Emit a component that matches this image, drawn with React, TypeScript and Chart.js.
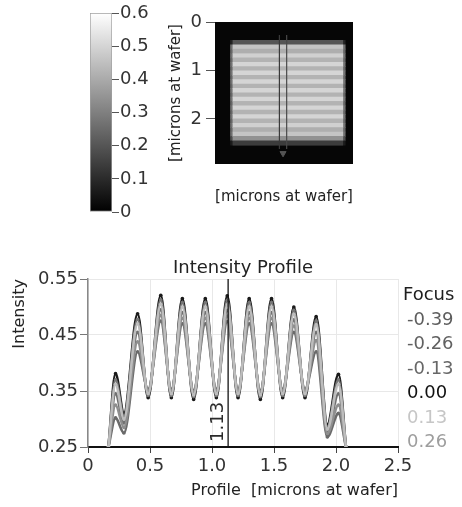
import React, { useEffect, useRef } from 'react';
import { Chart, registerables } from 'chart.js';

Chart.register(...registerables);

const FONT = "'DejaVu Sans', sans-serif";

// ---------- colour bar ----------
const colorbarRange = [0, 0.6];
const colorbarStep = 0.1;

// ---------- aerial image ----------
const imageXRange = [0, 2.85];
const imageYRange = [0, 2.93];
const imageYTickStep = 1;
const imageRowY = [
  0.425, 0.515, 0.605, 0.695, 0.785, 0.875, 0.965, 1.055, 1.145, 1.235, 1.325, 1.415,
  1.505, 1.595, 1.685, 1.775, 1.865, 1.955, 2.045, 2.135, 2.225, 2.315, 2.405, 2.495,
];
const imageRowValue = [
  0.2, 0.46, 0.41, 0.49, 0.42, 0.5, 0.42, 0.5, 0.42, 0.5, 0.42, 0.5,
  0.42, 0.5, 0.42, 0.5, 0.42, 0.5, 0.42, 0.49, 0.41, 0.46, 0.34, 0.14,
];
const imageBlurValue = [
  0.08, 0.26, 0.24, 0.27, 0.24, 0.27, 0.24, 0.27, 0.24, 0.27, 0.24, 0.27,
  0.24, 0.27, 0.24, 0.27, 0.24, 0.27, 0.24, 0.27, 0.24, 0.26, 0.18, 0.06,
];
const imagePatternX = [0.37, 2.64];
const imageBlurX = [0.32, 2.69];
const cutLineLeftX = 1.33;
const cutLineRightX = 1.48;
const cutLineY = [0.27, 2.62];
const cutArrow = { x: 1.405, y: 2.71 };

// ---------- intensity profile ----------
const profileXRange = [0, 2.5];
const profileXStep = 0.5;
const profileYRange = [0.25, 0.55];
const profileYStep = 0.1;
const markerX = 1.13;
const profileX = [
  0.165, 0.222, 0.29, 0.4, 0.485, 0.587, 0.672, 0.761, 0.852, 0.946, 1.035, 1.123,
  1.21, 1.3, 1.39, 1.48, 1.57, 1.66, 1.75, 1.84, 1.93, 2.02, 2.08,
];
const focusM039 = [
  0.25, 0.302, 0.275, 0.42, 0.353, 0.475, 0.353, 0.47, 0.351, 0.47, 0.353, 0.474,
  0.353, 0.47, 0.351, 0.47, 0.353, 0.455, 0.353, 0.42, 0.268, 0.31, 0.25,
];
const focusM026 = [
  0.25, 0.345, 0.293, 0.455, 0.348, 0.495, 0.348, 0.49, 0.346, 0.49, 0.348, 0.494,
  0.348, 0.49, 0.346, 0.49, 0.348, 0.477, 0.348, 0.455, 0.278, 0.345, 0.25,
];
const focusM013 = [
  0.25, 0.37, 0.305, 0.478, 0.342, 0.513, 0.342, 0.508, 0.34, 0.508, 0.342, 0.512,
  0.342, 0.508, 0.34, 0.508, 0.342, 0.494, 0.342, 0.475, 0.285, 0.37, 0.25,
];
const focus000 = [
  0.25, 0.381, 0.31, 0.488, 0.338, 0.521, 0.338, 0.515, 0.335, 0.515, 0.338, 0.52,
  0.338, 0.515, 0.335, 0.515, 0.338, 0.5, 0.338, 0.483, 0.29, 0.38, 0.25,
];
const focusP013 = [
  0.25, 0.362, 0.3, 0.47, 0.345, 0.505, 0.345, 0.5, 0.343, 0.5, 0.345, 0.504,
  0.345, 0.5, 0.343, 0.5, 0.345, 0.487, 0.345, 0.468, 0.282, 0.362, 0.25,
];
const focusP026 = [
  0.25, 0.325, 0.285, 0.438, 0.35, 0.485, 0.35, 0.48, 0.348, 0.48, 0.35, 0.484,
  0.35, 0.48, 0.348, 0.48, 0.35, 0.466, 0.35, 0.44, 0.274, 0.325, 0.25,
];
const focusLabels = ['-0.39', '-0.26', '-0.13', '0.00', '0.13', '0.26'];
const focusSeries = [focusM039, focusM026, focusM013, focus000, focusP013, focusP026];
const focusColors = ['#5e5e5e', '#616161', '#676767', '#111111', '#c6c6c6', '#9e9e9e'];
const focusLineColors = ['#6a6a6a', '#707070', '#767676', '#1a1a1a', '#bdbdbd', '#8e8e8e'];
const focusOrder = [4, 3, 1, 5, 0, 2];

function grayFor(v: number): string {
  const t = Math.max(0, Math.min(1, (v - colorbarRange[0]) / (colorbarRange[1] - colorbarRange[0])));
  const g = Math.round(t * 255);
  return `rgb(${g},${g},${g})`;
}

const imageBgPlugin = {
  id: 'imageBg',
  beforeDatasetsDraw(chart: any) {
    const { ctx, scales } = chart;
    const x0 = scales.x.getPixelForValue(imageXRange[0]);
    const x1 = scales.x.getPixelForValue(imageXRange[1]);
    const y0 = scales.y.getPixelForValue(imageYRange[0]);
    const y1 = scales.y.getPixelForValue(imageYRange[1]);
    ctx.save();
    ctx.fillStyle = grayFor(0.015);
    ctx.fillRect(x0, y0, x1 - x0, y1 - y0);
    ctx.restore();
  },
};

const focusLegendPlugin = {
  id: 'focusLegend',
  afterDraw(chart: any, _args: any, opts: any) {
    const ctx = chart.ctx;
    ctx.save();
    ctx.font = `18px ${FONT}`;
    ctx.textAlign = 'left';
    ctx.textBaseline = 'middle';
    ctx.fillStyle = '#1e1e1e';
    ctx.fillText(opts.title, opts.titleX, opts.titleY);
    focusLabels.forEach((lab, i) => {
      ctx.fillStyle = focusColors[i];
      ctx.fillText(lab, opts.itemX, opts.firstY + i * opts.stepY);
    });
    ctx.restore();
  },
};

const markerLabelPlugin = {
  id: 'markerLabel',
  afterDatasetsDraw(chart: any) {
    const { ctx, scales } = chart;
    const x = scales.x.getPixelForValue(markerX);
    const y = scales.y.getPixelForValue(profileYRange[0]);
    ctx.save();
    ctx.font = `18px ${FONT}`;
    ctx.fillStyle = '#2a2a2a';
    ctx.translate(x - 1, y - 5);
    ctx.rotate(-Math.PI / 2);
    ctx.textAlign = 'left';
    ctx.textBaseline = 'bottom';
    ctx.fillText(markerX.toFixed(2), 0, 0);
    ctx.restore();
  },
};

export default function App() {
  const aRef = useRef<HTMLCanvasElement>(null);
  const bRef = useRef<HTMLCanvasElement>(null);
  const cRef = useRef<HTMLCanvasElement>(null);

  useEffect(() => {
    Chart.defaults.font.family = FONT;
    Chart.defaults.color = '#333';

    // ---- colour bar chart ----
    const chartA = new Chart(aRef.current as HTMLCanvasElement, {
      type: 'bar',
      data: {
        labels: [''],
        datasets: [
          {
            data: [[colorbarRange[0], colorbarRange[1]]] as any,
            backgroundColor: (c: any) => {
              const ch = c.chart;
              if (!ch.chartArea) return '#888';
              const y0 = ch.scales.y.getPixelForValue(colorbarRange[0]);
              const y1 = ch.scales.y.getPixelForValue(colorbarRange[1]);
              const g = ch.ctx.createLinearGradient(0, y0, 0, y1);
              g.addColorStop(0, grayFor(colorbarRange[0]));
              g.addColorStop(1, grayFor(colorbarRange[1]));
              return g;
            },
            borderColor: '#a0a0a0',
            borderWidth: 1,
            borderSkipped: false,
            barPercentage: 1,
            categoryPercentage: 1,
          },
        ],
      },
      options: {
        animation: false,
        responsive: false,
        events: [],
        layout: { padding: { left: 90, right: 0, top: 13, bottom: 18 } },
        plugins: { legend: { display: false }, tooltip: { enabled: false } },
        scales: {
          x: { display: false },
          y: {
            position: 'right',
            min: colorbarRange[0],
            max: colorbarRange[1],
            ticks: {
              stepSize: colorbarStep,
              font: { size: 18 },
              color: '#333',
              padding: 1,
              callback: (v: any) => (Number(v) === 0 ? '0' : Number(v).toFixed(1)),
            },
            grid: { drawOnChartArea: false, tickLength: 7, color: '#555' },
            border: { display: false },
            afterFit: (s: any) => {
              s.width = 48;
            },
          },
        },
      } as any,
    });

    // ---- aerial image chart ----
    const chartB = new Chart(bRef.current as HTMLCanvasElement, {
      type: 'bar',
      data: {
        datasets: [
          {
            type: 'line',
            data: [
              { x: cutLineLeftX, y: cutLineY[0] },
              { x: cutLineLeftX, y: cutLineY[1] },
            ],
            borderColor: '#3a3a3a',
            borderWidth: 1.2,
            pointRadius: 0,
            order: 0,
          },
          {
            type: 'line',
            data: [
              { x: cutLineRightX, y: cutLineY[0] },
              { x: cutLineRightX, y: cutLineY[1] },
            ],
            borderColor: '#4a4a4a',
            borderWidth: 1.2,
            pointRadius: 0,
            order: 0,
          },
          {
            type: 'line',
            data: [cutArrow],
            showLine: false,
            pointStyle: 'triangle',
            rotation: 180,
            pointRadius: 3.5,
            pointBackgroundColor: '#555',
            pointBorderColor: '#555',
            order: 0,
          },
          {
            type: 'bar',
            indexAxis: 'y',
            data: imageRowY.map((y) => ({ x: imagePatternX, y })),
            backgroundColor: imageRowValue.map(grayFor),
            borderWidth: 0,
            grouped: false,
            barPercentage: 1,
            categoryPercentage: 1,
            order: 1,
          },
          {
            type: 'bar',
            indexAxis: 'y',
            data: imageRowY.map((y) => ({ x: imageBlurX, y })),
            backgroundColor: imageBlurValue.map(grayFor),
            borderWidth: 0,
            grouped: false,
            barPercentage: 1,
            categoryPercentage: 1,
            order: 2,
          },
        ] as any,
      },
      options: {
        animation: false,
        responsive: false,
        events: [],
        layout: { padding: { left: 0, right: 109, top: 22, bottom: 0 } },
        plugins: { legend: { display: false }, tooltip: { enabled: false } },
        scales: {
          x: {
            type: 'linear',
            min: imageXRange[0],
            max: imageXRange[1],
            offset: false,
            ticks: { display: false },
            grid: { display: false, offset: false },
            border: { display: false },
            title: {
              display: true,
              text: '[microns at wafer]',
              font: { size: 15 },
              color: '#222',
              padding: { top: 0, bottom: 24 },
            },
            afterFit: (s: any) => {
              s.height = 66;
            },
          },
          y: {
            type: 'linear',
            reverse: true,
            min: imageYRange[0],
            max: imageYRange[1],
            offset: false,
            ticks: {
              stepSize: imageYTickStep,
              includeBounds: false,
              font: { size: 18 },
              color: '#333',
              padding: 4,
            },
            grid: { drawOnChartArea: false, tickLength: 9, color: '#555', offset: false },
            border: { display: false },
            title: {
              display: true,
              text: '[microns at wafer]',
              align: 'center',
              font: { size: 15 },
              color: '#222',
              padding: { top: 7, bottom: 0 },
            },
            afterFit: (s: any) => {
              s.width = 55;
            },
          },
        },
      } as any,
      plugins: [imageBgPlugin],
    });

    // ---- intensity profile chart ----
    const profileDatasets: any[] = focusSeries.map((vals, i) => ({
      label: focusLabels[i],
      data: vals.map((v, j) => ({ x: profileX[j], y: v })),
      borderColor: focusLineColors[i],
      backgroundColor: focusLineColors[i],
      borderWidth: 2.6,
      pointRadius: 1.8,
      pointBorderWidth: 0,
      cubicInterpolationMode: 'monotone',
      order: focusOrder[i],
    }));
    profileDatasets.push({
      label: 'marker',
      data: [
        { x: markerX, y: profileYRange[0] },
        { x: markerX, y: profileYRange[1] },
      ],
      borderColor: '#111',
      borderWidth: 1.3,
      pointRadius: 0,
      order: -1,
    });

    const chartC = new Chart(cRef.current as HTMLCanvasElement, {
      type: 'line',
      data: { datasets: profileDatasets },
      options: {
        animation: false,
        responsive: false,
        events: [],
        layout: { padding: { left: 0, right: 64, top: 0, bottom: 0 } },
        plugins: {
          legend: { display: false },
          tooltip: { enabled: false },
          title: {
            display: true,
            text: 'Intensity Profile',
            fullSize: false,
            font: { size: 18, weight: 'normal' },
            color: '#222',
            padding: { top: 27.2, bottom: 0.2 },
          },
          focusLegend: {
            title: 'Focus',
            titleX: 403,
            titleY: 65,
            itemX: 407,
            firstY: 90,
            stepY: 24.5,
          },
        },
        scales: {
          x: {
            type: 'linear',
            min: profileXRange[0],
            max: profileXRange[1],
            ticks: { stepSize: profileXStep, font: { size: 18 }, color: '#333', padding: 2.2, maxRotation: 0 },
            grid: { color: '#e8e8e8', tickLength: 6, tickColor: '#444' },
            border: { color: '#111', width: 2 },
            title: {
              display: true,
              text: 'Profile  [microns at wafer]',
              align: 'end',
              font: { size: 16 },
              color: '#222',
              padding: { top: 0, bottom: 6.4 },
            },
            afterFit: (s: any) => {
              s.height = 60;
            },
          },
          y: {
            type: 'linear',
            min: profileYRange[0],
            max: profileYRange[1],
            ticks: {
              stepSize: profileYStep,
              font: { size: 18 },
              color: '#333',
              padding: 2,
              callback: (v: any) => Number(v).toFixed(2),
            },
            grid: { color: '#e8e8e8', tickLength: 8, tickColor: '#777' },
            border: { color: '#888', width: 1.5 },
            title: {
              display: true,
              text: 'Intensity',
              align: 'end',
              font: { size: 16 },
              color: '#222',
              padding: { top: 10.4, bottom: 0 },
            },
            afterFit: (s: any) => {
              s.width = 88;
            },
          },
        },
      } as any,
      plugins: [focusLegendPlugin, markerLabelPlugin],
    });

    return () => {
      chartA.destroy();
      chartB.destroy();
      chartC.destroy();
    };
  }, []);

  return (
    <div style={{ position: 'fixed', left: 0, top: 0, width: 462, height: 507, background: '#fff' }}>
      <canvas
        ref={aRef}
        width={160}
        height={230}
        style={{ position: 'absolute', left: 0, top: 0, width: 160, height: 230 }}
      />
      <canvas
        ref={bRef}
        width={302}
        height={230}
        style={{ position: 'absolute', left: 160, top: 0, width: 302, height: 230 }}
      />
      <canvas
        ref={cRef}
        width={462}
        height={277}
        style={{ position: 'absolute', left: 0, top: 230, width: 462, height: 277 }}
      />
    </div>
  );
}
